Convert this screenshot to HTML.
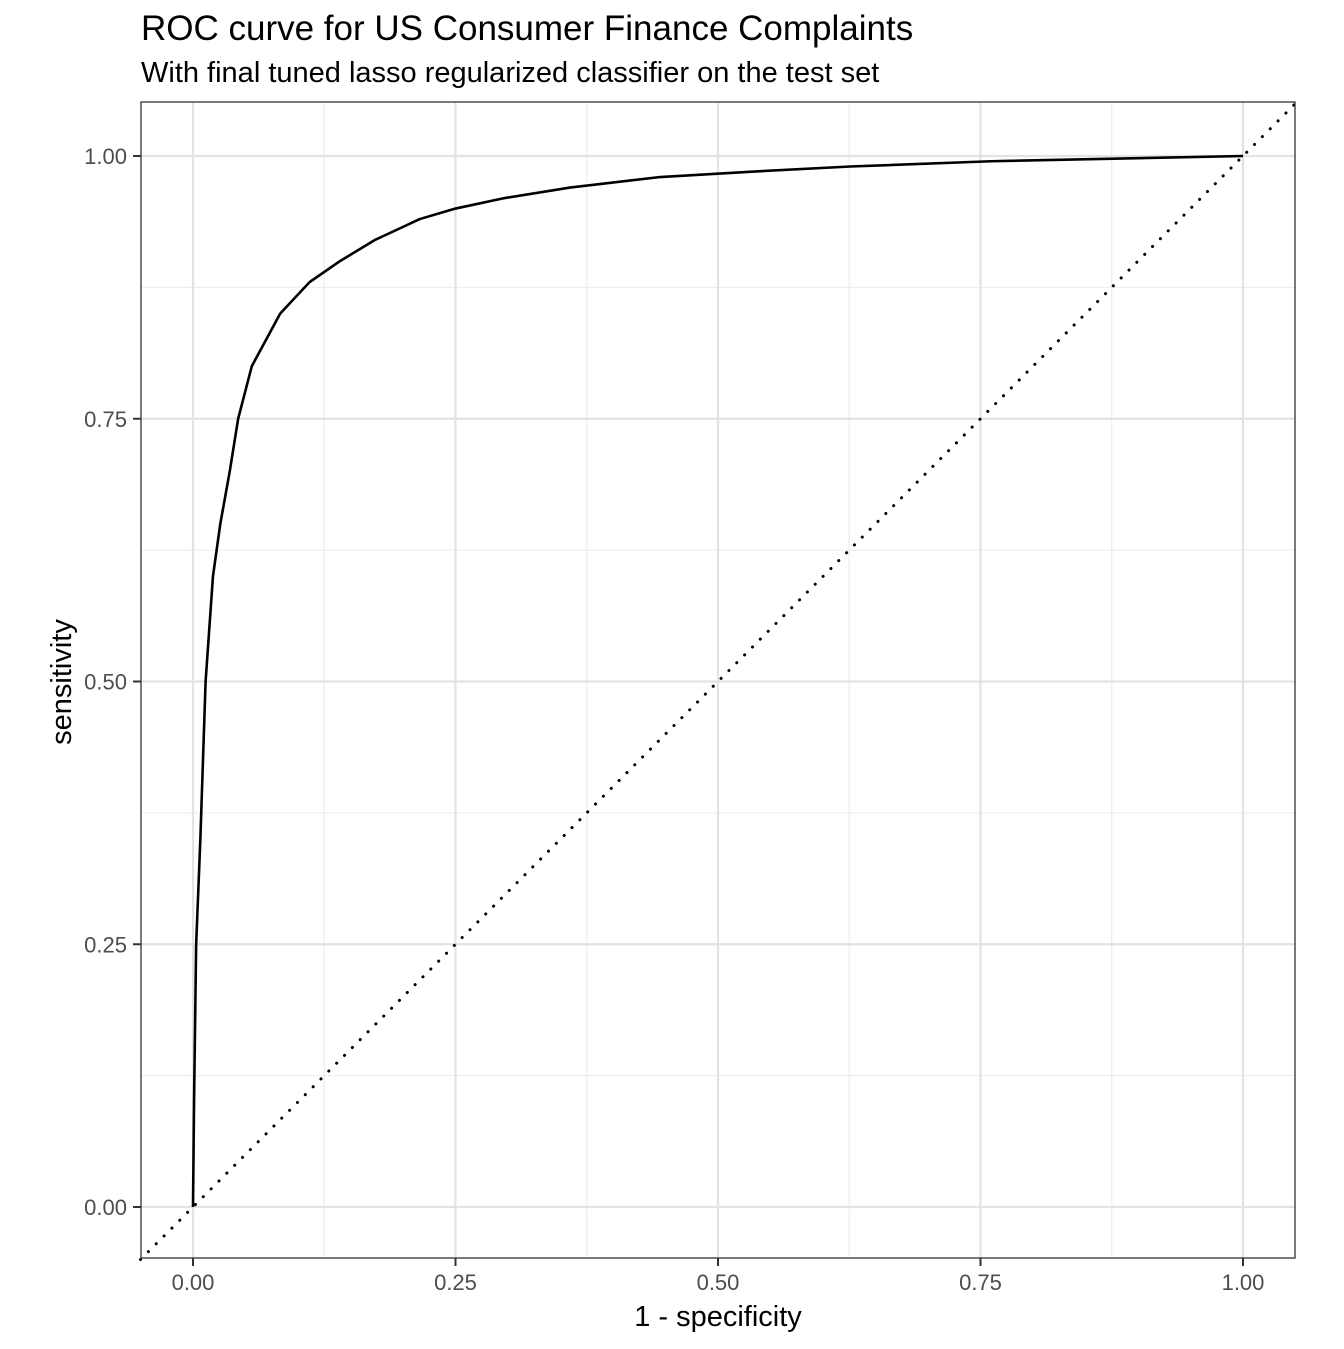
<!DOCTYPE html>
<html><head><meta charset="utf-8">
<style>
html,body{margin:0;padding:0;background:#fff;}
svg text{font-family:"Liberation Sans",Arial,sans-serif;}
</style></head>
<body>
<svg id="chart" width="1344" height="1344" xmlns="http://www.w3.org/2000/svg">
<text x="141" y="40" font-size="35" fill="#000">ROC curve for US Consumer Finance Complaints</text>
<text x="141" y="82" font-size="29" fill="#000">With final tuned lasso regularized classifier on the test set</text>
<rect x="141" y="102" width="1154" height="1156" fill="#fff"/>
<g id="grid"></g>
<g id="marks"></g>
<rect x="141" y="102" width="1154" height="1156" fill="none" stroke="#333" stroke-width="1.3"/>
<g id="axes"></g>
<text x="718" y="1326" font-size="29" text-anchor="middle" fill="#000">1 - specificity</text>
<text transform="translate(71,682) rotate(-90)" font-size="29" text-anchor="middle" fill="#000">sensitivity</text>
</svg>
<script>
const fpr=[0,0.001,0.003,0.007,0.012,0.019,0.026,0.035,0.043,0.056,0.083,0.111,0.14,0.173,0.216,0.25,0.297,0.359,0.445,0.53,0.626,0.76,1];
const tpr=[0,0.1,0.25,0.35,0.5,0.6,0.65,0.7,0.75,0.8,0.85,0.88,0.9,0.92,0.94,0.95,0.96,0.97,0.98,0.985,0.99,0.995,1];
const ticks=[0,0.25,0.5,0.75,1];
const tickLabels=["0.00","0.25","0.50","0.75","1.00"];
const minorTicks=[0.125,0.375,0.625,0.875];
const NS="http://www.w3.org/2000/svg";
function sx(v){return 193+v*1050;}
function sy(v){return 1207-v*1051;}
function mk(tag,attrs,parent){const e=document.createElementNS(NS,tag);for(const k in attrs)e.setAttribute(k,attrs[k]);parent.appendChild(e);return e;}
const grid=document.getElementById('grid'),marks=document.getElementById('marks'),axes=document.getElementById('axes');
minorTicks.forEach(t=>{
  let l=mk('line',{x1:sx(t),x2:sx(t),y1:102,y2:1258,stroke:'#ebebeb','stroke-width':1.1},grid);
  
  
  let m=mk('line',{x1:141,x2:1295,y1:sy(t),y2:sy(t),stroke:'#ebebeb','stroke-width':1.1},grid);
  
  
});
ticks.forEach((t,i)=>{
  let l=mk('line',{x1:sx(t),x2:sx(t),y1:102,y2:1258,stroke:'#e3e3e3','stroke-width':2.2},grid);
  
  
  let m=mk('line',{x1:141,x2:1295,y1:sy(t),y2:sy(t),stroke:'#e3e3e3','stroke-width':2.2},grid);
  
  
  let a=mk('line',{x1:sx(t),x2:sx(t),y1:1258,y2:1266,stroke:'#333','stroke-width':2},axes);
  
  
  let b=mk('line',{x1:133,x2:141,y1:sy(t),y2:sy(t),stroke:'#333','stroke-width':2},axes);
  
  
  let tx=mk('text',{x:sx(t),y:1290,'font-size':22,'text-anchor':'middle',fill:'#4d4d4d'},axes);
  tx.textContent=tickLabels[i];
  
  
  let ty=mk('text',{x:127,y:sy(t)+8,'font-size':22,'text-anchor':'end',fill:'#4d4d4d'},axes);
  ty.textContent=tickLabels[i];
  
  
});
let d=mk('line',{x1:sx(-0.05),y1:sy(-0.05),x2:sx(1.05),y2:sy(1.05),stroke:'#000','stroke-width':3,'stroke-dasharray':'0.1 11','stroke-linecap':'round'},marks);


let p=mk('path',{d:fpr.map((v,i)=>(i?'L':'M')+sx(v)+','+sy(tpr[i])).join(''),fill:'none',stroke:'#000','stroke-width':2.6,'stroke-linejoin':'round'},marks);


</script>
</body></html>
